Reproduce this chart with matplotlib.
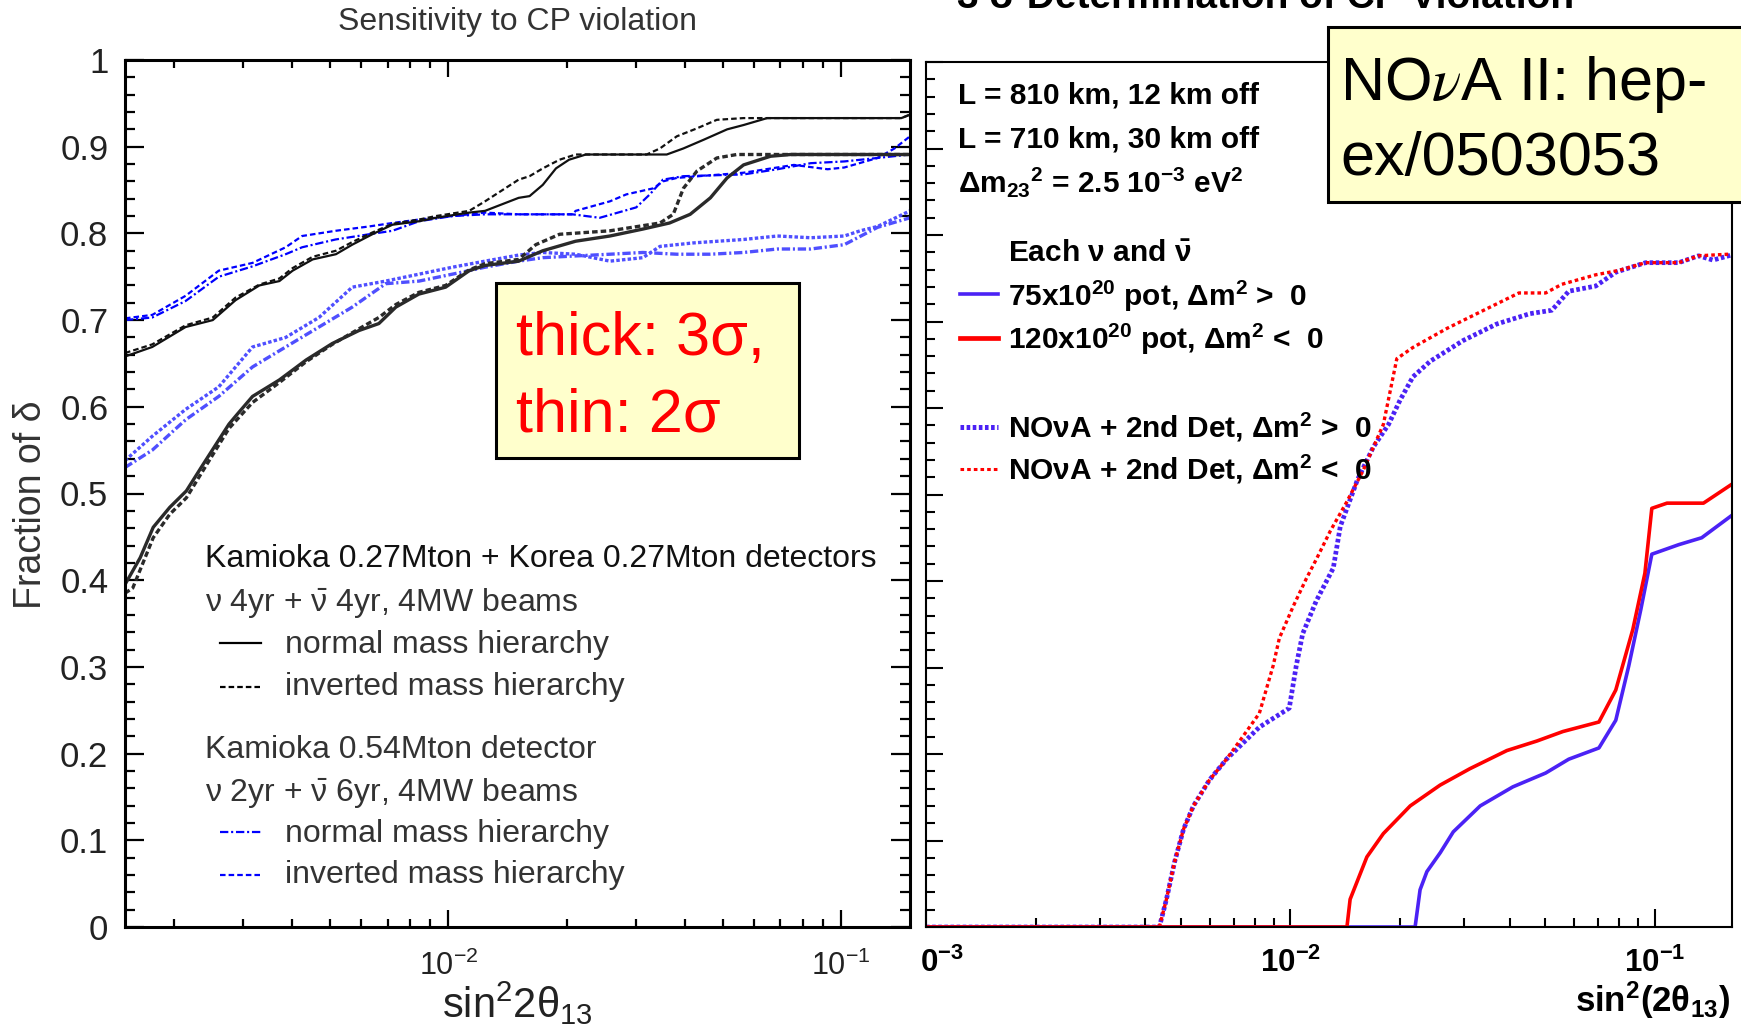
import numpy as np
import matplotlib
matplotlib.use("Agg")
import matplotlib.pyplot as plt
from matplotlib.patches import Rectangle
from matplotlib.lines import Line2D
from matplotlib.ticker import LogLocator, NullFormatter, FixedLocator, FixedFormatter
import matplotlib.transforms as mtransforms

plt.rcParams['font.family'] = ['Liberation Sans', 'DejaVu Sans']
plt.rcParams['mathtext.fontset'] = 'stix'
plt.rcParams['lines.scale_dashes'] = False

# ---------------- data: left panel (Kamioka + Korea / Kamioka only) ----------------
# black, thin (2 sigma), normal hierarchy (solid)
kk2_norm_x = [0.0015, 0.00176, 0.00214, 0.00251, 0.00287, 0.0033, 0.00371, 0.00401, 0.00451,
              0.00517, 0.00569, 0.0064, 0.0072, 0.00842, 0.00929, 0.0113, 0.0124, 0.0151,
              0.0161, 0.0174, 0.0188, 0.0203, 0.0224, 0.036, 0.0397, 0.0447, 0.0513, 0.0565,
              0.0649, 0.1426, 0.15]
kk2_norm_y = [0.658, 0.669, 0.692, 0.700, 0.723, 0.740, 0.745, 0.757, 0.770,
              0.776, 0.787, 0.799, 0.810, 0.814, 0.818, 0.824, 0.826, 0.841,
              0.843, 0.856, 0.875, 0.885, 0.891, 0.891, 0.898, 0.908, 0.920, 0.925,
              0.933, 0.933, 0.937]
# black, thin (2 sigma), inverted hierarchy (dashed)
kk2_inv_x = [0.0015, 0.00176, 0.00214, 0.00251, 0.00287, 0.0033, 0.00371, 0.00401, 0.00451,
             0.00517, 0.00569, 0.0064, 0.0072, 0.00842, 0.00929, 0.0113, 0.0124, 0.0151,
             0.0161, 0.0174, 0.0192, 0.0211, 0.032, 0.0346, 0.0382, 0.0429, 0.0483, 0.0565,
             0.1426, 0.15]
kk2_inv_y = [0.662, 0.672, 0.694, 0.703, 0.726, 0.741, 0.748, 0.760, 0.773,
             0.780, 0.790, 0.801, 0.811, 0.816, 0.820, 0.826, 0.837, 0.862,
             0.866, 0.875, 0.885, 0.891, 0.891, 0.898, 0.912, 0.921, 0.931, 0.933,
             0.933, 0.937]
# black, thick (3 sigma), normal hierarchy (solid)
kk3_norm_x = [0.0015, 0.00164, 0.00177, 0.00195, 0.00215, 0.00236, 0.00276, 0.00288, 0.00317,
              0.00371, 0.00434, 0.00506, 0.00592, 0.00665, 0.00735, 0.00841, 0.00984, 0.0113,
              0.0124, 0.0151, 0.0174, 0.0211, 0.0258, 0.0313, 0.0366, 0.0413, 0.0465, 0.0513,
              0.0565, 0.0662, 0.0745, 0.15]
kk3_norm_y = [0.395, 0.426, 0.461, 0.484, 0.503, 0.532, 0.580, 0.590, 0.612,
              0.631, 0.654, 0.673, 0.688, 0.696, 0.715, 0.730, 0.738, 0.757,
              0.763, 0.768, 0.780, 0.791, 0.797, 0.805, 0.812, 0.822, 0.841, 0.864,
              0.879, 0.889, 0.891, 0.891]
# black, thick (3 sigma), inverted hierarchy (dashed)
kk3_inv_x = [0.0015, 0.00157, 0.00177, 0.00195, 0.00215, 0.00236, 0.00276, 0.00317, 0.00371,
             0.00434, 0.00506, 0.00592, 0.00665, 0.00735, 0.00841, 0.00984, 0.0113, 0.0124,
             0.0151, 0.0167, 0.0192, 0.0258, 0.0346, 0.0374, 0.0397, 0.043, 0.0483, 0.0543,
             0.15]
kk3_inv_y = [0.385, 0.391, 0.449, 0.476, 0.495, 0.525, 0.575, 0.605, 0.628,
             0.652, 0.672, 0.690, 0.703, 0.718, 0.732, 0.740, 0.758, 0.765,
             0.770, 0.787, 0.799, 0.803, 0.812, 0.822, 0.852, 0.872, 0.887, 0.891,
             0.891]
# blue, thin (2 sigma), normal hierarchy (dash-dot)
k2_norm_x = [0.0015, 0.00176, 0.00214, 0.0026, 0.00317, 0.00385, 0.00424, 0.00516, 0.00628,
             0.0072, 0.00842, 0.01024, 0.0124, 0.0151, 0.0207, 0.0243, 0.0301, 0.0326, 0.0352,
             0.0397, 0.0565, 0.0689, 0.0838, 0.102, 0.124, 0.15]
k2_norm_y = [0.700, 0.703, 0.722, 0.750, 0.762, 0.776, 0.784, 0.793, 0.799,
             0.803, 0.814, 0.820, 0.822, 0.822, 0.822, 0.818, 0.830, 0.845, 0.862,
             0.866, 0.868, 0.874, 0.881, 0.883, 0.887, 0.891]
# blue, thin (2 sigma), inverted hierarchy (dashed)
k2_inv_x = [0.0015, 0.00176, 0.00214, 0.0026, 0.00317, 0.00385, 0.00424, 0.00516, 0.00628,
            0.0072, 0.00842, 0.01024, 0.0124, 0.0151, 0.0207, 0.0211, 0.0258, 0.0284, 0.0333,
            0.0352, 0.0382, 0.0565, 0.0759, 0.0925, 0.102, 0.124, 0.137, 0.15]
k2_inv_y = [0.702, 0.706, 0.728, 0.757, 0.766, 0.784, 0.797, 0.803, 0.808,
            0.812, 0.816, 0.820, 0.824, 0.822, 0.822, 0.826, 0.837, 0.845, 0.852,
            0.860, 0.864, 0.870, 0.879, 0.874, 0.876, 0.887, 0.898, 0.912]
# blue, thick (3 sigma), normal hierarchy (dash-dot)
k3_norm_x = [0.0015, 0.00176, 0.00214, 0.0026, 0.00317, 0.00385, 0.00468, 0.00569, 0.00692,
             0.00842, 0.01024, 0.0124, 0.0151, 0.0174, 0.0211, 0.0258, 0.0313, 0.0382, 0.0465,
             0.0565, 0.0689, 0.0838, 0.102, 0.124, 0.15]
k3_norm_y = [0.530, 0.550, 0.585, 0.612, 0.646, 0.669, 0.692, 0.715, 0.742,
             0.745, 0.753, 0.761, 0.768, 0.772, 0.774, 0.776, 0.778, 0.776, 0.776,
             0.778, 0.782, 0.782, 0.787, 0.807, 0.818]
# blue, thick (3 sigma), inverted hierarchy (dashed)
k3_inv_x = [0.0015, 0.00176, 0.00214, 0.0026, 0.00317, 0.00385, 0.00468, 0.00569, 0.00692,
            0.00842, 0.01024, 0.0124, 0.0151, 0.0174, 0.0211, 0.0258, 0.0313, 0.0346, 0.042,
            0.0565, 0.0689, 0.0838, 0.102, 0.112, 0.124, 0.15]
k3_inv_y = [0.538, 0.566, 0.597, 0.623, 0.669, 0.680, 0.703, 0.738, 0.745,
            0.753, 0.761, 0.768, 0.775, 0.778, 0.776, 0.768, 0.772, 0.785, 0.789,
            0.793, 0.797, 0.795, 0.797, 0.803, 0.808, 0.826]

# ---------------- data: right panel (NOvA II) ----------------
nova_det2_pos_x = [0.001, 0.00437, 0.00457, 0.00481, 0.00509, 0.00542, 0.0060, 0.00668, 0.00743,
                   0.00822, 0.00993, 0.01038, 0.01081, 0.01178, 0.01312, 0.01371, 0.01528,
                   0.0169, 0.0186, 0.0200, 0.0217, 0.0242, 0.0298, 0.0368, 0.0454, 0.0522,
                   0.0581, 0.0689, 0.0782, 0.0944, 0.1164, 0.132, 0.1445, 0.163]
nova_det2_pos_y = [0.0, 0.0, 0.032, 0.075, 0.113, 0.140, 0.170, 0.194, 0.213,
                   0.231, 0.253, 0.302, 0.339, 0.377, 0.415, 0.463, 0.517,
                   0.555, 0.581, 0.609, 0.636, 0.654, 0.678, 0.697, 0.709, 0.713,
                   0.735, 0.741, 0.757, 0.768, 0.768, 0.776, 0.771, 0.777]
nova_det2_neg_x = [0.001, 0.00437, 0.00457, 0.00481, 0.00509, 0.00542, 0.0060, 0.00668, 0.00743,
                   0.00822, 0.00897, 0.00933, 0.01019, 0.01107, 0.01178, 0.01288, 0.01422,
                   0.01585, 0.0180, 0.0196, 0.0217, 0.0269, 0.0332, 0.0424, 0.0502, 0.0556,
                   0.0689, 0.0796, 0.0944, 0.1164, 0.132, 0.163]
nova_det2_neg_y = [0.0, 0.0, 0.032, 0.075, 0.113, 0.140, 0.170, 0.194, 0.221,
                   0.247, 0.302, 0.334, 0.371, 0.403, 0.425, 0.458, 0.490,
                   0.528, 0.581, 0.657, 0.670, 0.692, 0.711, 0.733, 0.733, 0.743,
                   0.754, 0.759, 0.768, 0.768, 0.776, 0.778]
nova75_pos_x = [0.001, 0.022, 0.0227, 0.0237, 0.0258, 0.0280, 0.0332, 0.0408, 0.0502, 0.0581,
                0.0703, 0.0782, 0.0849, 0.0916, 0.0982, 0.1164, 0.1346, 0.163]
nova75_pos_y = [0.0, 0.0, 0.043, 0.064, 0.086, 0.110, 0.140, 0.162, 0.178, 0.194,
                0.207, 0.239, 0.302, 0.367, 0.431, 0.442, 0.450, 0.476]
nova120_neg_x = [0.001, 0.0143, 0.01459, 0.01622, 0.0180, 0.02133, 0.02576, 0.0311, 0.0393,
                 0.0475, 0.0560, 0.0703, 0.0782, 0.0871, 0.0940, 0.0982, 0.1081, 0.1361, 0.163]
nova120_neg_y = [0.0, 0.0, 0.032, 0.081, 0.108, 0.140, 0.164, 0.183, 0.204,
                 0.215, 0.226, 0.237, 0.274, 0.344, 0.409, 0.484, 0.490, 0.490, 0.512]

left_ytick_vals = [0.0, 0.1, 0.2, 0.3, 0.4, 0.5, 0.6, 0.7, 0.8, 0.9, 1.0]
left_ytick_labels = ['0', '0.1', '0.2', '0.3', '0.4', '0.5', '0.6', '0.7', '0.8', '0.9', '1']
left_xtick_vals = [0.01, 0.1]
left_xtick_labels = [r'$\mathregular{10^{-2}}$', r'$\mathregular{10^{-1}}$']
right_xtick_vals = [0.001, 0.01, 0.1]
right_xtick_labels = [r'$\mathregular{0^{-3}}$', r'$\mathregular{10^{-2}}$', r'$\mathregular{10^{-1}}$']

# ---------------- figure ----------------
W, H = 1741, 1036
fig = plt.figure(figsize=(W / 100, H / 100), dpi=100)


def fx(px):
    return px / W


def fy(py):
    return 1 - py / H


ax1 = fig.add_axes([fx(125), fy(927), (910 - 125) / W, (927 - 60) / H])
ax2 = fig.add_axes([fx(926), fy(927), (1732 - 926) / W, (927 - 62) / H])

BLK_THIN = '#111111'
BLK_THICK = '#2a2a2a'
BLUE_THIN = '#0000ff'
BLUE_THICK = '#4f4fff'
DASH = (4.0, 2.2)
DASHDOT = (6.0, 2.0, 1.5, 2.0)

ax1.plot(k3_inv_x, k3_inv_y, color=BLUE_THICK, lw=2.4, dashes=(2.5, 1.6))
ax1.plot(k3_norm_x, k3_norm_y, color=BLUE_THICK, lw=2.4, dashes=DASHDOT)
ax1.plot(k2_inv_x, k2_inv_y, color=BLUE_THIN, lw=1.6, dashes=DASH)
ax1.plot(k2_norm_x, k2_norm_y, color=BLUE_THIN, lw=1.6, dashes=DASHDOT)
ax1.plot(kk3_inv_x, kk3_inv_y, color=BLK_THICK, lw=2.4, dashes=DASH)
ax1.plot(kk3_norm_x, kk3_norm_y, color=BLK_THICK, lw=2.4)
ax1.plot(kk2_inv_x, kk2_inv_y, color=BLK_THIN, lw=1.6, dashes=DASH)
ax1.plot(kk2_norm_x, kk2_norm_y, color=BLK_THIN, lw=1.6)

ax1.set_xscale('log')
ax1.set_xlim(0.0015, 0.15)
ax1.set_ylim(0, 1)
ax1.xaxis.set_major_locator(FixedLocator(left_xtick_vals))
ax1.xaxis.set_major_formatter(FixedFormatter(left_xtick_labels))
ax1.xaxis.set_minor_locator(LogLocator(base=10, subs=np.arange(2, 10), numticks=20))
ax1.xaxis.set_minor_formatter(NullFormatter())
ax1.yaxis.set_major_locator(FixedLocator(left_ytick_vals))
ax1.yaxis.set_major_formatter(FixedFormatter(left_ytick_labels))
ax1.yaxis.set_minor_locator(FixedLocator(np.arange(0, 1.001, 0.02)))
ax1.tick_params(which='both', direction='in', top=True, right=True, width=1.6,
                colors='black', labelcolor='#222222')
ax1.tick_params(axis='x', which='major', length=12, pad=17, labelsize=22)
ax1.tick_params(axis='x', which='minor', length=6)
ax1.tick_params(axis='y', which='major', length=13.5, pad=12, labelsize=25)
ax1.tick_params(axis='y', which='minor', length=7)
for sp in ax1.spines.values():
    sp.set_linewidth(2.2)

ax1.set_title('Sensitivity to CP violation', fontsize=23, color='#333333',
              x=0.5, y=(927 - 30) / 867, va='baseline', pad=0)
ax1.set_xlabel(r'sin$\mathregular{^{2}}$2θ$\mathregular{_{13}}$', fontsize=30, color='#222222', va='baseline')
ax1.xaxis.set_label_coords(0.5, (927 - 1018) / 867)
ax1.set_ylabel('Fraction of δ', fontsize=27, color='#333333', va='center')
ax1.yaxis.set_label_coords((31 - 125) / 785, (927 - 505) / 867)

# left legend text
LEG = 23
fig.text(fx(205), fy(567), 'Kamioka 0.27Mton + Korea 0.27Mton detectors', fontsize=LEG, color='#111111', va='baseline')
fig.text(fx(205), fy(612), r'ν 4yr + $\mathregular{\bar{ν}}$ 4yr, 4MW beams', fontsize=LEG, color='#333333', va='baseline')
fig.text(fx(285), fy(653), 'normal mass hierarchy', fontsize=LEG, color='#333333', va='baseline')
fig.text(fx(285), fy(695), 'inverted mass hierarchy', fontsize=LEG, color='#333333', va='baseline')
fig.text(fx(205), fy(758), 'Kamioka 0.54Mton detector', fontsize=LEG, color='#333333', va='baseline')
fig.text(fx(205), fy(802), r'ν 2yr + $\mathregular{\bar{ν}}$ 6yr, 4MW beams', fontsize=LEG, color='#333333', va='baseline')
fig.text(fx(285), fy(842), 'normal mass hierarchy', fontsize=LEG, color='#333333', va='baseline')
fig.text(fx(285), fy(883), 'inverted mass hierarchy', fontsize=LEG, color='#333333', va='baseline')
fig.add_artist(Line2D([fx(220), fx(261)], [fy(643), fy(643)], color='black', lw=1.6))
fig.add_artist(Line2D([fx(220), fx(261)], [fy(687), fy(687)], color='black', lw=1.6, dashes=DASH))
fig.add_artist(Line2D([fx(220), fx(261)], [fy(832), fy(832)], color=BLUE_THIN, lw=1.6, dashes=DASHDOT))
fig.add_artist(Line2D([fx(220), fx(261)], [fy(875), fy(875)], color=BLUE_THIN, lw=1.6, dashes=DASH))

# ---------------- right panel ----------------
R_BLUE = '#4b22f5'
R_RED = '#ff0000'
ax2.plot(nova_det2_pos_x, nova_det2_pos_y, color=R_BLUE, lw=3.4, dashes=(2.6, 1.8))
ax2.plot(nova_det2_neg_x, nova_det2_neg_y, color=R_RED, lw=2.4, dashes=(2.6, 2.2))
ax2.plot(nova75_pos_x, nova75_pos_y, color=R_BLUE, lw=2.6)
ax2.plot(nova120_neg_x, nova120_neg_y, color=R_RED, lw=2.6)

ax2.set_xscale('log')
ax2.set_xlim(0.001, 0.163)
ax2.set_ylim(0, 1)
ax2.xaxis.set_major_locator(FixedLocator(right_xtick_vals))
ax2.xaxis.set_major_formatter(FixedFormatter(right_xtick_labels))
ax2.xaxis.set_minor_locator(LogLocator(base=10, subs=np.arange(2, 10), numticks=20))
ax2.xaxis.set_minor_formatter(NullFormatter())
ax2.yaxis.set_major_locator(FixedLocator(left_ytick_vals))
ax2.yaxis.set_minor_locator(FixedLocator(np.arange(0, 1.001, 0.02)))
ax2.tick_params(which='both', direction='in', top=False, right=False, width=1.5, colors='black')
ax2.tick_params(axis='y', which='both', labelleft=False)
ax2.tick_params(axis='y', which='major', length=12)
ax2.tick_params(axis='y', which='minor', length=6.5)
ax2.tick_params(axis='x', which='major', length=13, pad=15, labelsize=22.5)
ax2.tick_params(axis='x', which='minor', length=6.5)
for lab in ax2.get_xticklabels():
    lab.set_fontweight('bold')
first = ax2.get_xticklabels()[0]
first.set_transform(first.get_transform() + mtransforms.ScaledTranslation(0.16, 0, fig.dpi_scale_trans))
for sp in ax2.spines.values():
    sp.set_linewidth(1.5)

ax2.set_title('3 σ Determination of CP Violation', fontsize=28, fontweight='bold',
              x=(1266 - 926) / 806, y=(927 - 8) / 865, va='baseline', pad=0)
ax2.set_xlabel(r'sin$\mathregular{^{2}}$(2θ$\mathregular{_{13}}$)', fontsize=25, fontweight='bold',
               ha='right', va='baseline')
ax2.xaxis.set_label_coords((1730 - 926) / 806, (927 - 1012) / 865)

RT = 21.5
fig.text(fx(958), fy(103), 'L = 810 km, 12 km off', fontsize=RT, fontweight='bold', va='baseline')
fig.text(fx(958), fy(147), 'L = 710 km, 30 km off', fontsize=RT, fontweight='bold', va='baseline')
fig.text(fx(958), fy(192), r'Δm$\mathregular{_{23}}$$\mathregular{^{2}}$ = 2.5 10$\mathregular{^{-3}}$ eV$\mathregular{^{2}}$',
         fontsize=RT, fontweight='bold', va='baseline')
fig.text(fx(1008), fy(262), r'Each ν and $\mathregular{\bar{ν}}$', fontsize=RT, fontweight='bold', va='baseline')
fig.text(fx(1008), fy(306), r'75x10$\mathregular{^{20}}$ pot, Δm$\mathregular{^{2}}$ >  0', fontsize=RT, fontweight='bold', va='baseline')
fig.text(fx(1008), fy(349), r'120x10$\mathregular{^{20}}$ pot, Δm$\mathregular{^{2}}$ <  0', fontsize=RT, fontweight='bold', va='baseline')
fig.text(fx(1008), fy(437), r'NOνA + 2nd Det, Δm$\mathregular{^{2}}$ >  0', fontsize=RT, fontweight='bold', va='baseline')
fig.text(fx(1008), fy(480), r'NOνA + 2nd Det, Δm$\mathregular{^{2}}$ <  0', fontsize=RT, fontweight='bold', va='baseline')
fig.add_artist(Line2D([fx(960), fx(998)], [fy(294), fy(294)], color=R_BLUE, lw=2.6))
fig.add_artist(Line2D([fx(960), fx(998)], [fy(338), fy(338)], color=R_RED, lw=3.4))
fig.add_artist(Line2D([fx(960), fx(998)], [fy(427), fy(427)], color=R_BLUE, lw=3.6, dashes=(2.6, 1.8)))
fig.add_artist(Line2D([fx(960), fx(998)], [fy(469), fy(469)], color=R_RED, lw=2.2, dashes=(2.6, 2.2)))

# ---------------- annotation boxes ----------------
YEL = '#ffffcc'
fig.add_artist(Rectangle((fx(496), fy(458)), (799 - 496) / W, (458 - 283) / H, transform=fig.transFigure,
                         facecolor=YEL, edgecolor='black', lw=2.2, zorder=5))
fig.text(fx(516), fy(355), 'thick: 3σ,', fontsize=44, color='#ff0000', va='baseline', zorder=6)
fig.text(fx(516), fy(432), 'thin: 2σ', fontsize=44, color='#ff0000', va='baseline', zorder=6)

fig.add_artist(Rectangle((fx(1328), fy(202)), (1770 - 1328) / W, (202 - 27) / H, transform=fig.transFigure,
                         facecolor=YEL, edgecolor='black', lw=2.2, zorder=5))
fig.text(fx(1340), fy(100), r'NO$\nu$A II: hep-', fontsize=44, color='black', va='baseline', zorder=6)
fig.text(fx(1340), fy(175), 'ex/0503053', fontsize=44, color='black', va='baseline', zorder=6)

fig.savefig('out.png', dpi=100)
